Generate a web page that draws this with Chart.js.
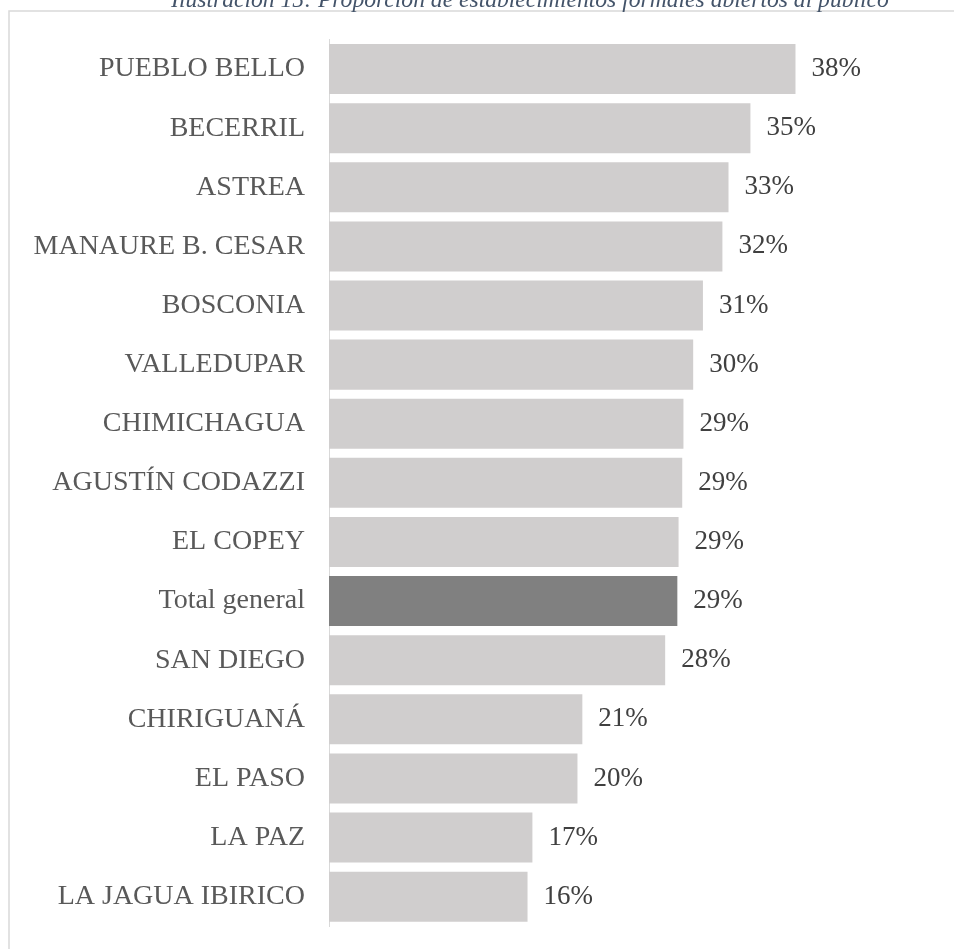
<!DOCTYPE html>
<html>
<head>
<meta charset="utf-8">
<script src="https://cdn.jsdelivr.net/npm/chart.js@4.4.1/dist/chart.umd.min.js"></script>
<style>
  html, body { margin: 0; padding: 0; background: #fff; }
  #wrap { position: relative; width: 954px; height: 949px; overflow: hidden; }
</style>
</head>
<body>
<div id="wrap"><canvas id="chart"></canvas></div>
<script>
// Municipios (orden del gráfico, de arriba hacia abajo)
const municipios = [
  'PUEBLO BELLO', 'BECERRIL', 'ASTREA', 'MANAURE B. CESAR', 'BOSCONIA',
  'VALLEDUPAR', 'CHIMICHAGUA', 'AGUSTÍN CODAZZI', 'EL COPEY', 'Total general',
  'SAN DIEGO', 'CHIRIGUANÁ', 'EL PASO', 'LA PAZ', 'LA JAGUA IBIRICO'
];

// Proporción de establecimientos formales abiertos al público
const proporcion = [
  0.383, 0.346, 0.328, 0.323, 0.307,
  0.299, 0.291, 0.290, 0.287, 0.286,
  0.276, 0.208, 0.204, 0.167, 0.163
];

const titulo = 'Ilustración 15: Proporción de establecimientos formales abiertos al público';

const SERIF = "'Liberation Serif', 'Times New Roman', serif";
const COLOR_BAR = '#D0CECE';
const COLOR_TOTAL = '#808080';

// Frame + title (title is clipped at the top of the picture)
const framePlugin = {
  id: 'framePlugin',
  beforeDraw(chart) {
    const ctx = chart.ctx;
    ctx.save();
    ctx.strokeStyle = '#D9D9D9';
    ctx.lineWidth = 1.5;
    ctx.strokeRect(9, 11, 1200, 1200);
    ctx.fillStyle = '#44546A';
    ctx.font = 'italic 23.6px ' + SERIF;
    ctx.textAlign = 'center';
    ctx.textBaseline = 'alphabetic';
    ctx.fillText(titulo, 530, 7);
    ctx.restore();
  }
};

// Value labels at the end of each bar
const valueLabels = {
  id: 'valueLabels',
  afterDatasetsDraw(chart) {
    const ctx = chart.ctx;
    const meta = chart.getDatasetMeta(0);
    ctx.save();
    ctx.fillStyle = '#404040';
    ctx.font = '27px ' + SERIF;
    ctx.textAlign = 'left';
    ctx.textBaseline = 'middle';
    meta.data.forEach((bar, i) => {
      const txt = Math.round(proporcion[i] * 100) + '%';
      ctx.fillText(txt, bar.x + 16, bar.y);
    });
    ctx.restore();
  }
};

const ctx = document.getElementById('chart');
new Chart(ctx, {
  type: 'bar',
  data: {
    labels: municipios,
    datasets: [{
      data: proporcion,
      backgroundColor: municipios.map(m => m === 'Total general' ? COLOR_TOTAL : COLOR_BAR),
      borderWidth: 0,
      barPercentage: 0.846,
      categoryPercentage: 1
    }]
  },
  options: {
    indexAxis: 'y',
    responsive: true,
    maintainAspectRatio: false,
    animation: false,
    layout: {
      padding: { left: 0, right: 16, top: 39.5, bottom: 22.8 }
    },
    scales: {
      x: {
        display: false,
        min: 0,
        max: 0.5
      },
      y: {
        grid: { display: false, drawTicks: false },
        border: { display: true, color: '#D9D9D9', width: 1 },
        ticks: {
          autoSkip: false,
          padding: 24,
          color: '#595959',
          font: { family: SERIF, size: 28 }
        },
        afterFit(scale) {
          // fixed axis width, and no extra top/bottom room for the labels
          scale.width = 329;
          scale.paddingTop = 0;
          scale.paddingBottom = 0;
        }
      }
    },
    plugins: {
      legend: { display: false },
      tooltip: { enabled: false },
      title: { display: false }
    }
  },
  plugins: [framePlugin, valueLabels]
});
</script>
</body>
</html>
